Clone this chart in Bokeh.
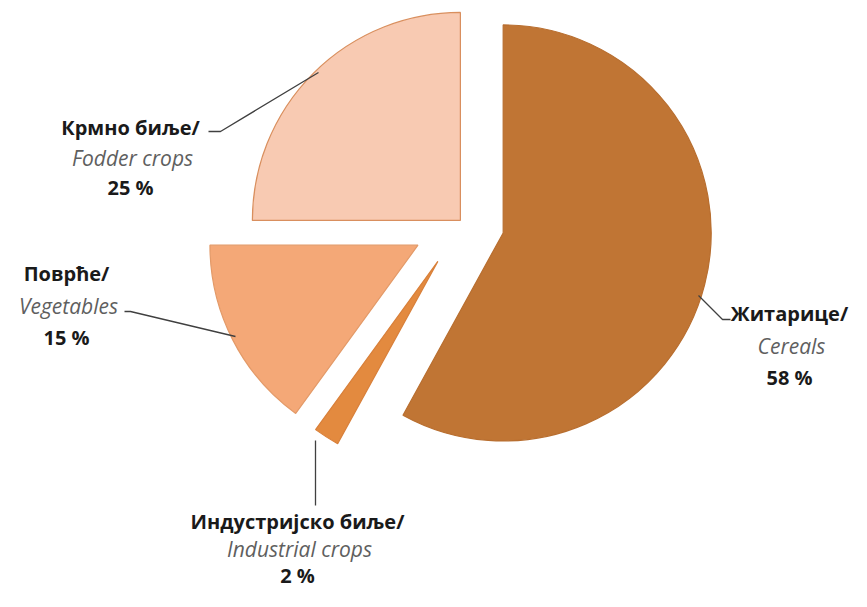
import math
from bokeh.plotting import figure
from bokeh.models import Range1d, ColumnDataSource
from bokeh.core.properties import value
from bokeh.embed import file_html
from bokeh.resources import INLINE

# ---- data ----
categories_sr = ["Житарице/", "Индустријско биље/", "Поврће/", "Крмно биље/"]
categories_en = ["Cereals", "Industrial crops", "Vegetables", "Fodder crops"]
shares = [58, 2, 15, 25]
pct_labels = ["58 %", "2 %", "15 %", "25 %"]

# ---- styles / layout ----
fills = ["#C07534", "#E38A3F", "#F4A877", "#F8CAB2"]
outlines = ["#B86E2F", "#D9803A", "#E39A68", "#D98F5E"]
explode = [42, 46, 50, 3]           # px, along the slice mid angle
center_px = (462, 222)               # px (x right, y down)
radius = 208
label_anchor = [(789, 313), (297, 521), (66, 273), (130, 127)]
line_gaps = [32, 27, 32, 30]
leaders = [
    [(698, 295), (722, 319), (730, 319)],
    [(315, 440), (315, 505)],
    [(235, 336), (130, 311), (124, 311)],
    [(318, 72), (220, 131), (208, 131)],
]

W, H = 851, 591
p = figure(width=W, height=H, output_backend="svg", toolbar_location=None,
           x_range=Range1d(0, W), y_range=Range1d(-H, 0),
           min_border=0)
p.axis.visible = False
p.grid.visible = False
p.outline_line_color = None
p.background_fill_color = "white"
p.border_fill_color = "white"

total = sum(shares)
cx, cy = center_px[0], -center_px[1]
xs, ys, starts, ends = [], [], [], []
cum = 0.0
for s, e in zip(shares, explode):
    t1 = cum / total * 360.0
    cum += s
    t2 = cum / total * 360.0
    tm = math.radians((t1 + t2) / 2)
    xs.append(cx + e * math.sin(tm))
    ys.append(cy + e * math.cos(tm))
    starts.append(math.radians(90 - t2))
    ends.append(math.radians(90 - t1))

src = ColumnDataSource(dict(x=xs, y=ys, start=starts, end=ends,
                            fill=fills, line=outlines))
p.wedge(x="x", y="y", radius=radius, start_angle="start", end_angle="end",
        direction="anticlock", fill_color="fill", line_color="line",
        line_width=1.2, source=src)

for pts in leaders:
    p.line([q[0] for q in pts], [-q[1] for q in pts], line_color="#404040",
           line_width=1.3)

font = value("Open Sans")
for i in range(len(shares)):
    ax, ay = label_anchor[i]
    g = line_gaps[i]
    p.text([ax], [-ay], text=[categories_sr[i]], text_font=font,
           text_font_size="20px", text_font_style="bold", text_color="#1a1a1a",
           text_align="center", text_baseline="middle")
    p.text([ax + 2], [-(ay + g)], text=[categories_en[i]], text_font=font,
           text_font_size="21px", text_font_style="italic", text_color="#5f5f5f",
           text_align="center", text_baseline="middle")
    p.text([ax], [-(ay + 2 * g)], text=[pct_labels[i]], text_font=font,
           text_font_size="20px", text_font_style="bold", text_color="#1a1a1a",
           text_align="center", text_baseline="middle")

open("out.html", "w").write(file_html(p, INLINE))
